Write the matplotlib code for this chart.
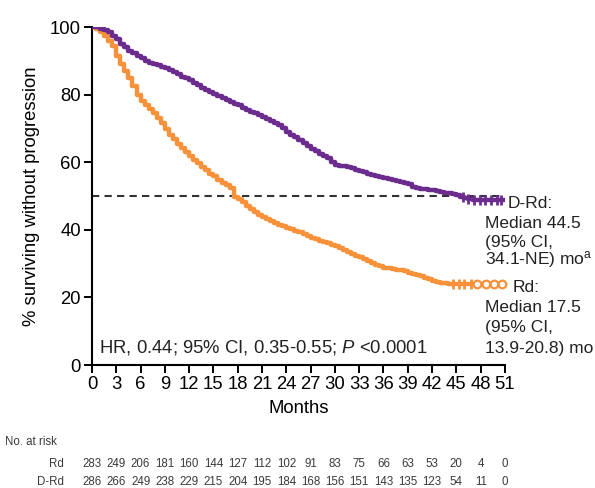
import numpy as np
import matplotlib
matplotlib.use("Agg")
import matplotlib.pyplot as plt

plt.rcParams['font.family'] = ['Liberation Sans', 'DejaVu Sans']
plt.rcParams['mathtext.fontset'] = 'custom'
plt.rcParams['mathtext.rm'] = 'Liberation Sans'
plt.rcParams['mathtext.it'] = 'Liberation Sans:italic'

# ---- data (every half month) ----
months = [0, 0.5, 1, 1.5, 2, 2.5, 3, 3.5, 4, 4.5, 5, 5.5, 6, 6.5, 7, 7.5, 8, 8.5, 9, 9.5,
          10, 10.5, 11, 11.5, 12, 12.5, 13, 13.5, 14, 14.5, 15, 15.5, 16, 16.5, 17, 17.5,
          18, 18.5, 19, 19.5, 20, 20.5, 21, 21.5, 22, 22.5, 23, 23.5, 24, 24.5, 25, 25.5,
          26, 26.5, 27, 27.5, 28, 28.5, 29, 29.5, 30, 30.5, 31, 31.5, 32, 32.5, 33, 33.5,
          34, 34.5, 35, 35.5, 36, 36.5, 37, 37.5, 38, 38.5, 39, 39.5, 40, 40.5, 41, 41.5,
          42, 42.5, 43, 43.5, 44, 44.5, 45, 45.5, 46, 46.5, 47, 47.5, 48, 48.5, 49, 49.5,
          50, 50.5, 51]
rd_pfs = [100, 99.5, 98.5, 97.5, 96, 94.5, 91.5, 89, 87, 85, 82.5, 80, 78, 77, 75.8,
          74.5, 73.2, 71.5, 69.8, 68.2, 66.8, 65.5, 64.3, 63, 61.8, 60.7, 59.7, 58.6,
          57.6, 56.6, 55.8, 54.8, 54, 53.3, 52.5, 49.8, 49.1, 48.3, 47.2, 46.2, 45.3,
          44.5, 43.8, 43.2, 42.6, 42, 41.5, 41, 40.6, 40.2, 39.8, 39.4, 38.8, 38.2, 37.7,
          37.2, 36.8, 36.4, 36, 35.6, 35.2, 34.5, 33.9, 33.4, 32.9, 32.4, 31.9, 31.4,
          30.8, 30.2, 29.6, 29.2, 28.8, 28.6, 28.4, 28.2, 28, 27.7, 27.3, 27, 26.6, 26.2,
          25.8, 25.4, 25, 24.6, 24.4, 24.2, 24, 24, 24, 24, 24, 24, 24, 24, 24, 24, 24,
          24, 24, 24, 24]
drd_pfs = [100, 100, 99.5, 99, 98.5, 97.5, 96.5, 95, 94, 93, 92.2, 91.5, 90.8, 90, 89.5,
           89, 88.7, 88.2, 87.8, 87.3, 86.8, 86, 85.3, 84.8, 84.3, 83.5, 82.8, 82, 81.3,
           80.8, 80.2, 79.5, 79, 78.4, 77.9, 77.3, 76.8, 76.2, 75.6, 75, 74.5, 74, 73.4,
           72.8, 72.2, 71.6, 71, 70, 69, 68.2, 67.4, 66.7, 65.8, 64.8, 64, 63.2, 62.5, 62,
           61.4, 60, 59.3, 59, 58.8, 58.6, 58.2, 57.8, 57.3, 57, 56.6, 56.2, 55.8, 55.5,
           55.2, 54.9, 54.7, 54.4, 54.2, 54, 53.5, 52.6, 52.3, 52.1, 52, 51.9, 51.8, 51.5,
           51.2, 51, 50.8, 50.5, 50.2, 49.8, 49.3, 49, 48.9, 48.9, 48.8, 48.8, 48.8, 48.7,
           48.7, 48.7, 48.7]
rd_censor_circles = [47.6, 48.7, 49.7, 50.7]
rd_censor_ticks = [44.6, 45.3, 46.0, 46.8]
drd_censor = [45.8, 46.5, 47.2, 47.9, 48.6, 49.3, 50, 50.5]

xticks = list(range(0, 52, 3))
yticks = [0, 20, 40, 60, 80, 100]
rd_risk = [283, 249, 206, 181, 160, 144, 127, 112, 102, 91, 83, 75, 66, 63, 53, 20, 4, 0]
drd_risk = [286, 266, 249, 238, 229, 215, 204, 195, 184, 168, 156, 151, 143, 135, 123, 54, 11, 0]

purple = '#6B2C8E'
orange = '#F7923A'
txt = '#222222'

fig = plt.figure(figsize=(5.95, 4.88), dpi=100)
ax = fig.add_axes([0.1546, 0.252, 0.694, 0.6925])

ax.step(months, rd_pfs, where='post', color=orange, lw=3.2, zorder=3)
ax.step(months, drd_pfs, where='post', color=purple, lw=3.2, zorder=3)

def step_val(t, ts, vs):
    i = np.searchsorted(ts, t, side='right') - 1
    return vs[i]

ax.plot(rd_censor_ticks, [step_val(t, months, rd_pfs) for t in rd_censor_ticks], '|',
        ms=7, color=orange, mew=2, zorder=4, clip_on=False)
ax.plot(rd_censor_circles, [step_val(t, months, rd_pfs) for t in rd_censor_circles], 'o',
        ms=5.5, mfc='white', mec=orange, mew=1.6, zorder=4, clip_on=False)
ax.plot(drd_censor, [step_val(t, months, drd_pfs) for t in drd_censor], '|', ms=7,
        color=purple, mew=2, zorder=4, clip_on=False)

ax.plot([0, 50.8], [50, 50], color='#333333', lw=1.5, ls=(0, (3.5, 2.5)), zorder=2)

ax.set_xlim(0, 51)
ax.set_ylim(0, 100)
ax.set_xticks(xticks)
ax.set_yticks(yticks)
ax.tick_params(direction='out', length=6, width=1.4, labelsize=13.3, pad=2, color='black')
for s in ['top', 'right']:
    ax.spines[s].set_visible(False)
for s in ['left', 'bottom']:
    ax.spines[s].set_linewidth(1.5)
ax.set_xlabel('Months', fontsize=13.3, labelpad=5)
ax.set_ylabel('% surviving without progression', fontsize=13.3, labelpad=7)

ax.text(0.9, 5.3, 'HR, 0.44; 95% CI, 0.35-0.55; $P$ <0.0001', fontsize=13.3,
        va='center', ha='left', color=txt)

fs = 12.5
ann = [(51.3, 47.9, 'D-Rd:'),
       (48.6, 42.0, 'Median 44.5'),
       (48.6, 36.4, '(95% CI,'),
       (48.6, 31.1, '34.1-NE) mo$^{\\mathrm{a}}$'),
       (52.0, 22.8, 'Rd:'),
       (48.6, 16.9, 'Median 17.5'),
       (48.6, 11.2, '(95% CI,'),
       (48.6, 5.0, '13.9-20.8) mo')]
for x, y, s in ann:
    ax.text(x, y, s, fontsize=fs, va='center', ha='left', clip_on=False, color=txt)

# risk table
trans = ax.get_xaxis_transform()
tcol = '#3a3a3a'
tfs = 8.3
fig.text(0.0084, 0.0943, 'No. at risk', fontsize=tfs, va='center', ha='left', color=tcol)
fig.text(0.1076, 0.0492, 'Rd', fontsize=tfs, va='center', ha='right', color=tcol)
fig.text(0.1076, 0.0123, 'D-Rd', fontsize=tfs, va='center', ha='right', color=tcol)
y_rd = (0.0492 - 0.252) / 0.6925
y_drd = (0.0123 - 0.252) / 0.6925
for t, a, b in zip(xticks, rd_risk, drd_risk):
    ax.text(t, y_rd, str(a), transform=trans, fontsize=tfs, ha='center', va='center',
            color=tcol, clip_on=False)
    ax.text(t, y_drd, str(b), transform=trans, fontsize=tfs, ha='center', va='center',
            color=tcol, clip_on=False)

fig.savefig('out.png', dpi=100)
